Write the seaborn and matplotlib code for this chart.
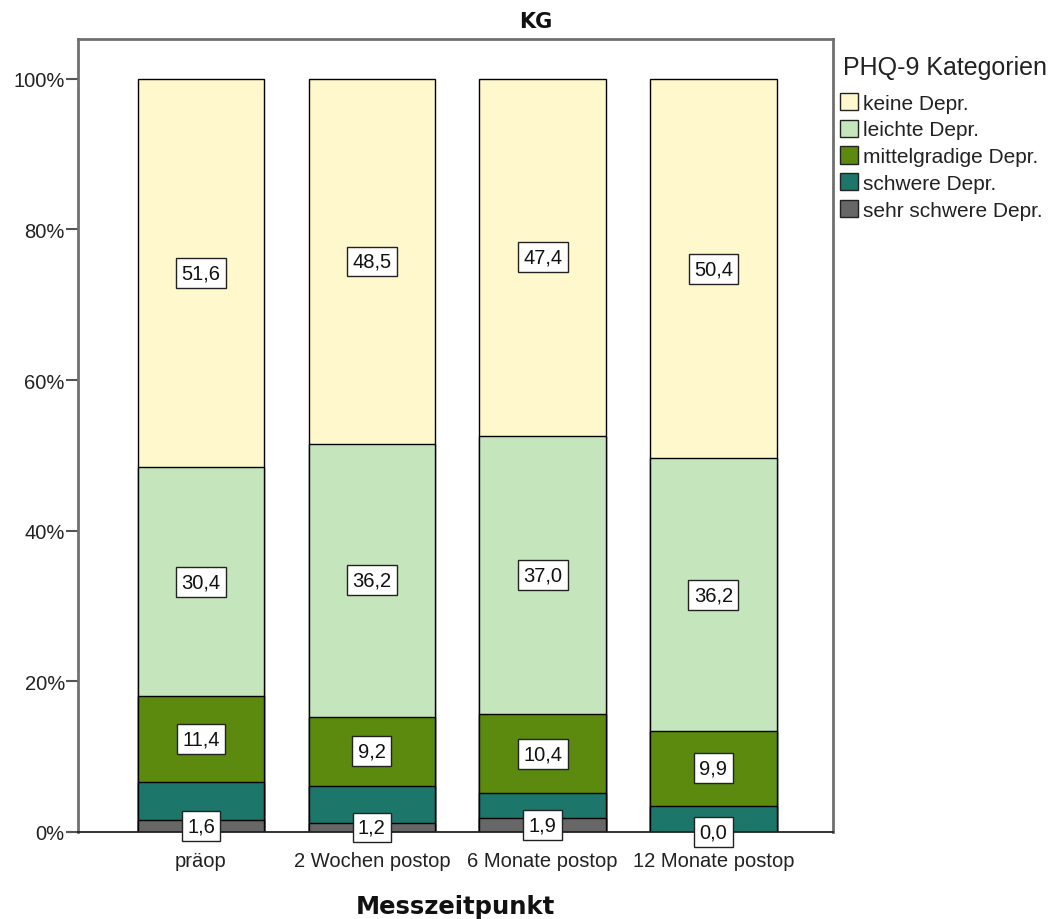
import numpy as np
import pandas as pd
import matplotlib
matplotlib.use("Agg")
import matplotlib.pyplot as plt
import seaborn as sns
from matplotlib.patches import Patch

# ---------------------------------------------------------------------------
# data (percent per measurement time, bottom -> top)
# ---------------------------------------------------------------------------
zeitpunkte = ["präop", "2 Wochen postop", "6 Monate postop", "12 Monate postop"]
kategorien = ["keine Depr.", "leichte Depr.", "mittelgradige Depr.",
              "schwere Depr.", "sehr schwere Depr."]

sehr_schwere = [1.6, 1.2, 1.9, 0.0]
schwere = [5.0, 4.9, 3.3, 3.5]
mittelgradige = [11.4, 9.2, 10.4, 9.9]
leichte = [30.4, 36.2, 37.0, 36.2]
keine = [51.6, 48.5, 47.4, 50.4]

farben = {
    "keine Depr.": "#fff8cc",
    "leichte Depr.": "#c5e6bd",
    "mittelgradige Depr.": "#5b8a0f",
    "schwere Depr.": "#1c766a",
    "sehr schwere Depr.": "#676767",
}

# stacking order from bottom to top
stapel = [("sehr schwere Depr.", sehr_schwere), ("schwere Depr.", schwere),
          ("mittelgradige Depr.", mittelgradige), ("leichte Depr.", leichte),
          ("keine Depr.", keine)]
# SPSS left out labels for the "schwere" segment
beschriftet = {"sehr schwere Depr.", "mittelgradige Depr.", "leichte Depr.", "keine Depr."}

sns.set_style("white")
plt.rcParams["font.family"] = ["Liberation Sans", "DejaVu Sans"]

fig = plt.figure(figsize=(10.6, 9.2), dpi=100)
ax = fig.add_axes([0.0736, 0.0946, 0.7123, 0.862])

# cumulative tops, drawn from the tallest down so the segments overlay
df = pd.DataFrame({"zeit": zeitpunkte})
cum = np.zeros(len(zeitpunkte))
tops = []
for name, vals in stapel:
    unten = cum.copy()
    cum = cum + np.array(vals)
    tops.append((name, unten, cum.copy(), vals))

for name, unten, oben, vals in reversed(tops):
    df["h"] = oben
    sns.barplot(data=df, x="zeit", y="h", color=farben[name], width=0.74,
                edgecolor="black", linewidth=1.0, saturation=1, ax=ax)

# value labels
for name, unten, oben, vals in tops:
    if name not in beschriftet:
        continue
    for i, v in enumerate(vals):
        y = (unten[i] + oben[i]) / 2
        ax.text(i, y, f"{v:.1f}".replace(".", ","), ha="center", va="center",
                fontsize=14.5, color="#111111", zorder=10, clip_on=False,
                bbox=dict(boxstyle="square,pad=0.27", fc="white", ec="#222222", lw=1.0))

ax.set_xlim(-0.72, 3.70)
ax.set_ylim(0, 105.3)
ax.set_yticks([0, 20, 40, 60, 80, 100])
ax.set_yticklabels([f"{t}%" for t in [0, 20, 40, 60, 80, 100]], fontsize=14.5, color="#222222")
ax.set_xticks(range(len(zeitpunkte)))
ax.set_xticklabels(zeitpunkte, fontsize=14.5, color="#222222")
ax.tick_params(axis="y", direction="out", length=8.5, width=1.5, color="#555555", left=True, pad=1)
ax.tick_params(axis="x", direction="out", length=5, width=1, color="#555555", bottom=True, pad=9)
for s in ax.spines.values():
    s.set_visible(True)
    s.set_color("#707070")
    s.set_linewidth(2)
ax.spines["bottom"].set_color("#222222")
ax.spines["bottom"].set_linewidth(1.3)
ax.set_ylabel("")
ax.set_xlabel("Messzeitpunkt", fontsize=17.5, fontweight="bold", color="#111111",
              family=["DejaVu Sans"], labelpad=17)

fig.text(0.505, 0.976, "KG", ha="center", va="center", fontsize=15,
         fontweight="bold", color="#111111", family=["DejaVu Sans"])

# legend title as separate text (SPSS leaves a wide gap below it)
fig.text(843 / 1060, 1 - 68 / 920, "PHQ-9 Kategorien", ha="left", va="center",
         fontsize=18, color="#222222")

handles = [Patch(facecolor=farben[k], edgecolor="#222222", linewidth=1.0) for k in kategorien]
leg = fig.legend(handles, kategorien, loc="upper left",
                 bbox_to_anchor=(0.792, 0.898), frameon=False, fontsize=15,
                 handlelength=0.9, handleheight=0.9,
                 handletextpad=0.25, labelspacing=0.33, borderaxespad=0,
                 borderpad=0)
for t in leg.get_texts():
    t.set_color("#222222")

plt.savefig("out.png", dpi=100)
